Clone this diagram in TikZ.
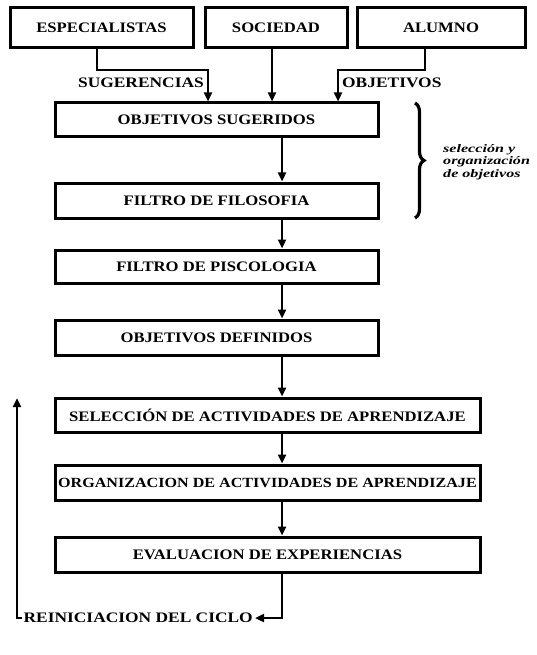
\documentclass[tikz,border=0pt]{standalone}
\usepackage{fontspec}
\setmainfont{Liberation Serif}
\newfontfamily\boxfont[FakeStretch=1.15]{Liberation Serif}
\newfontfamily\lblfont[FakeStretch=1.2]{Liberation Serif}
\newfontfamily\notefont[FakeStretch=1.4]{Liberation Serif}
\usetikzlibrary{arrows.meta,decorations.pathreplacing}
\tikzset{
  box/.style={draw, line width=3pt, inner sep=0pt, font=\boxfont\bfseries\fontsize{14.5}{16}\selectfont},
  lbl/.style={inner sep=1pt, font=\lblfont\bfseries\fontsize{14.5}{16}\selectfont},
  arr/.style={line width=2.8pt, -{Triangle[length=9pt,width=8pt]}}
}
\begin{document}
\begin{tikzpicture}[x=1pt,y=-1pt]
\useasboundingbox (0,0) rectangle (536,655);

% sources
\node[box, minimum width=183pt, minimum height=40pt] (esp) at (101.5,28) {ESPECIALISTAS};
\node[box, minimum width=142pt, minimum height=40pt] (soc) at (276,28) {SOCIEDAD};
\node[box, minimum width=168pt, minimum height=40pt] (alu) at (441,28) {ALUMNO};

% main chain
\node[box, minimum width=323pt, minimum height=34pt] (objsug) at (216.5,120) {OBJETIVOS SUGERIDOS};
\node[box, minimum width=323pt, minimum height=35pt] (filos) at (216.5,200.5) {FILTRO DE FILOSOFIA};
\node[box, minimum width=323pt, minimum height=33pt] (psic) at (216.5,266.5) {FILTRO DE PISCOLOGIA};
\node[box, minimum width=323pt, minimum height=35pt] (objdef) at (216.5,337.5) {OBJETIVOS DEFINIDOS};
\node[box, minimum width=425pt, minimum height=34pt] (sel) at (267.5,415) {SELECCIÓN DE ACTIVIDADES DE APRENDIZAJE};
\node[box, minimum width=425pt, minimum height=35pt, font=\boxfont\bfseries\fontsize{14}{16}\selectfont] (org) at (267.5,482.5) {ORGANIZACION DE ACTIVIDADES DE APRENDIZAJE};
\node[box, minimum width=425pt, minimum height=35pt] (eval) at (267.5,554.5) {EVALUACION DE EXPERIENCIAS};

% junction points
\coordinate (ax) at (282,0);
\coordinate (j1) at (208,70);
\coordinate (j2) at (338,70);
\coordinate (up) at (17,398);

% inputs to the first box
\draw[arr] ([xshift=-4.5pt]esp.south) |- (j1) -- (j1 |- objsug.north);
\draw[arr] ([xshift=-4pt]soc.south) -- ([xshift=-4pt]soc.south |- objsug.north);
\draw[arr] ([xshift=-16pt]alu.south) |- (j2) -- (j2 |- objsug.north);
\node[lbl, anchor=east] (sug) at (205,83) {SUGERENCIAS};
\node[lbl, anchor=west] (obj) at (341,83) {OBJETIVOS};

% chain arrows
\draw[arr] (objsug.south -| ax) -- (filos.north -| ax);
\draw[arr] (filos.south -| ax) -- (psic.north -| ax);
\draw[arr] (psic.south -| ax) -- (objdef.north -| ax);
\draw[arr] (objdef.south -| ax) -- (sel.north -| ax);
\draw[arr] (sel.south -| ax) -- (org.north -| ax);
\draw[arr] (org.south -| ax) -- (eval.north -| ax);

% brace for the objective stages
\draw[line width=3.2pt, decorate, decoration={brace, amplitude=9pt}]
  (415,103) -- (415,218);
\node[anchor=west, align=left, inner sep=0pt,
  font=\notefont\bfseries\itshape\fontsize{11.5}{12.5}\selectfont] (note) at (443,162)
  {selección y\\organización\\de objetivos};

% restart loop
\node[lbl, anchor=east] (rein) at (254,618) {REINICIACION DEL CICLO};
\draw[arr] (eval.south -| ax) |- ([xshift=1pt]rein.east);
\draw[arr] (rein.west) -| (up);
\end{tikzpicture}
\end{document}
